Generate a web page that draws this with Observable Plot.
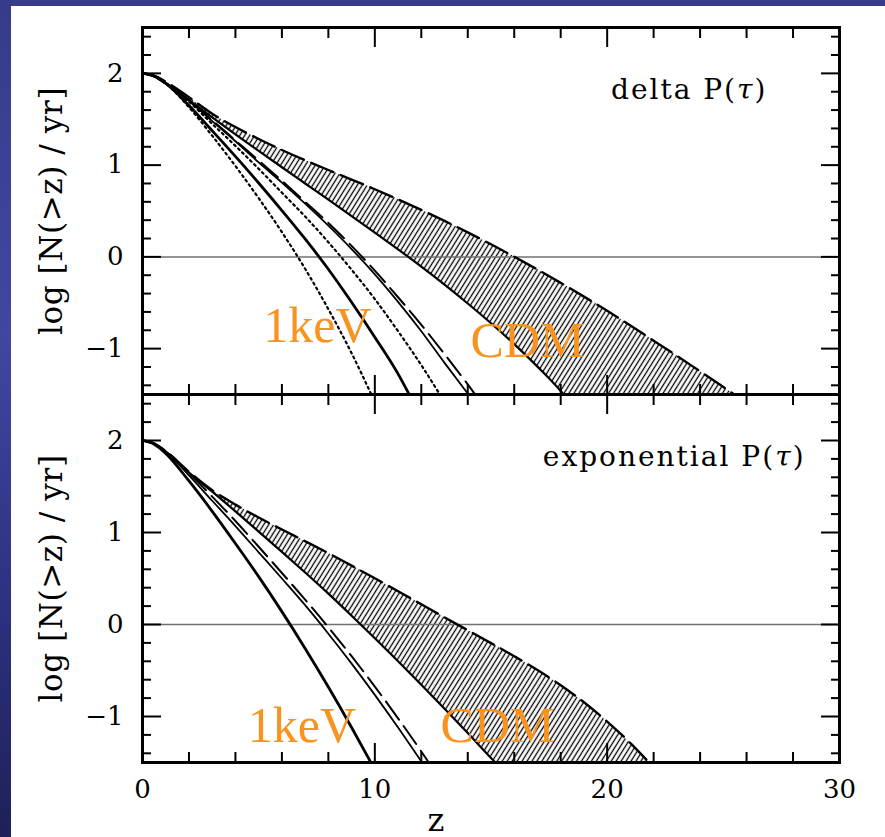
<!DOCTYPE html>
<html><head><meta charset="utf-8">
<script src="https://cdn.jsdelivr.net/npm/d3@7"></script>
<script src="https://cdn.jsdelivr.net/npm/@observablehq/plot@0.6"></script>
<style>
html,body{margin:0;padding:0;}
body{width:885px;height:837px;overflow:hidden;position:relative;
  background:linear-gradient(to bottom,#363c89 0%,#4047a2 40%,#2d3180 72%,#1e2156 100%);}
#sheet{position:absolute;left:11px;top:6px;right:0;bottom:0;background:#fff;}
#top,#bot{position:absolute;left:0;}
#top{top:0px;}
#bot{top:380px;}
</style></head>
<body><div id="sheet"></div><div id="top"></div><div id="bot"></div>
<script>
// ---------- tick values ----------
const xMajor = [0, 10, 20, 30];
const xMinor = [2, 4, 6, 8, 12, 14, 16, 18, 22, 24, 26, 28];
const yMajor = [-1, 0, 1, 2];
const yMinor = [-1.4, -1.2, -0.8, -0.6, -0.4, -0.2, 0.2, 0.4, 0.6, 0.8, 1.2, 1.4, 1.6, 1.8, 2.2, 2.4];

// ---------- top panel: delta P(tau)  [z, log N(>z)/yr] ----------
const deltaDot1 = [[0,2],[0.5,1.97],[1,1.89],[2,1.63],[3,1.32],[4,0.99],[5,0.64],[6,0.27],[7,-0.13],[8,-0.57],[9,-1.05],[9.85,-1.5]];
const deltaKeV = [[0,2],[0.5,1.97],[1,1.89],[2,1.65],[3,1.375],[4,1.095],[5,0.805],[6,0.505],[7,0.195],[8,-0.135],[9,-0.495],[10,-0.875],[11,-1.275],[11.48,-1.5]];
const deltaDot2 = [[0,2],[0.5,1.97],[1,1.89],[2,1.69],[3,1.45],[4,1.21],[5,0.96],[6,0.70],[7,0.44],[8,0.16],[9,-0.14],[10,-0.46],[11,-0.81],[12,-1.18],[12.8,-1.5]];
const deltaThin = [[0,2],[0.5,1.97],[1,1.89],[2,1.70],[3,1.48],[4,1.26],[5,1.03],[6,0.81],[7,0.58],[8,0.34],[9,0.085],[10,-0.19],[11,-0.49],[12,-0.81],[13,-1.155],[14.03,-1.5]];
const deltaDash = [[0,2],[0.5,1.97],[1,1.89],[2,1.70],[3,1.49],[4,1.27],[5,1.05],[6,0.83],[7,0.60],[8,0.37],[9,0.12],[10,-0.15],[11,-0.44],[12,-0.74],[13,-1.06],[14,-1.39],[14.32,-1.5]];
const deltaCdmLo = [[0,2],[0.5,1.97],[1,1.895],[2,1.71],[3,1.52],[4,1.335],[5,1.155],[6,0.977],[7,0.80],[8,0.623],[9,0.445],[10,0.265],[11,0.082],[12,-0.106],[13,-0.302],[14,-0.508],[15,-0.723],[16,-0.951],[17,-1.196],[18,-1.461],[18.13,-1.5]];
const deltaCdmHi = [[0,2],[0.5,1.975],[1,1.91],[2,1.74],[3,1.56],[4,1.415],[5,1.285],[6,1.165],[7,1.053],[8,0.947],[9,0.843],[10,0.737],[11,0.627],[12,0.512],[13,0.392],[14,0.267],[15,0.137],[16,0.002],[17,-0.138],[18,-0.283],[19,-0.433],[20,-0.588],[21,-0.748],[22,-0.913],[23,-1.078],[24,-1.248],[25,-1.418],[25.47,-1.5]];

// ---------- bottom panel: exponential P(tau) ----------
const expKeV = [[0,2],[0.5,1.96],[1,1.86],[2,1.56],[3,1.23],[4,0.88],[5,0.52],[6,0.14],[7,-0.26],[8,-0.68],[9,-1.12],[9.83,-1.5]];
const expThin = [[0,2],[0.5,1.965],[1,1.88],[2,1.62],[3,1.345],[4,1.07],[5,0.785],[6,0.50],[7,0.21],[8,-0.10],[9,-0.425],[10,-0.765],[11,-1.12],[12.03,-1.5]];
const expDash = [[0,2],[0.5,1.965],[1,1.88],[2,1.645],[3,1.39],[4,1.125],[5,0.845],[6,0.56],[7,0.27],[8,-0.03],[9,-0.345],[10,-0.675],[11,-1.02],[12,-1.38],[12.32,-1.5]];
const expCdmLo = [[0,2],[0.5,1.965],[1,1.88],[2,1.65],[3,1.445],[4,1.23],[5,1.01],[6,0.79],[7,0.565],[8,0.335],[9,0.095],[10,-0.15],[11,-0.40],[12,-0.655],[13,-0.915],[14,-1.18],[15,-1.45],[15.19,-1.5]];
const expCdmHi = [[0,2],[0.5,1.97],[1,1.885],[2,1.66],[3,1.46],[4,1.303],[5,1.163],[6,1.033],[7,0.905],[8,0.775],[9,0.64],[10,0.502],[11,0.362],[12,0.22],[13,0.077],[14,-0.062],[15,-0.202],[16,-0.345],[17,-0.495],[18,-0.66],[19,-0.845],[20,-1.055],[21,-1.29],[21.8,-1.5]];

// ---------- texts ----------
const yLabel = "log [N(>z) / yr]";
const xLabel = "z";
const titles = ["delta P(τ)", "exponential P(τ)"];
const modelLabels = ["1keV", "CDM"];

const SERIF = "'DejaVu Serif', serif";
const ORANGE = "#F7931E";
const obj = arr => arr.map(([z, v]) => ({z, v}));
const fmtY = d => d < 0 ? "\u2212" + (-d) : String(d);

function panel(o) {
  const C = "monotone-x";
  const lineMarks = [];
  for (const d of o.dotted) lineMarks.push(Plot.line(obj(d), {x: "z", y: "v", stroke: "black", strokeWidth: 2.2, strokeDasharray: "2,3.6", curve: C}));
  lineMarks.push(Plot.line(obj(o.keV), {x: "z", y: "v", stroke: "black", strokeWidth: 2.8, curve: C}));
  lineMarks.push(Plot.line(obj(o.thin), {x: "z", y: "v", stroke: "black", strokeWidth: 1.8, curve: C}));
  lineMarks.push(Plot.line(obj(o.dash), {x: "z", y: "v", stroke: "black", strokeWidth: 2, strokeDasharray: "22,8", curve: C}));
  lineMarks.push(Plot.line(obj(o.lo), {x: "z", y: "v", stroke: "black", strokeWidth: 2.2, curve: C}));
  lineMarks.push(Plot.line(obj(o.hi), {x: "z", y: "v", stroke: "black", strokeWidth: 2.4, strokeDasharray: "24,8", curve: C}));

  const tickStyle = {fill: "none", stroke: "black", strokeWidth: 2};
  const svg = Plot.plot({
    width: 885, height: o.height,
    marginLeft: 142, marginRight: 46, marginTop: o.marginTop, marginBottom: o.marginBottom,
    x: {domain: [0, 30]},
    y: {domain: [-1.5, 2.5]},
    style: {background: "transparent", fontFamily: SERIF, overflow: "visible", color: "black"},
    marks: [
      Plot.areaY(obj(o.hi), {x: "z", y1: -1.5, y2: "v", fill: `url(#${o.hatch})`, curve: C}),
      Plot.areaY(obj(o.lo), {x: "z", y1: -1.5, y2: "v", fill: "white", curve: C}),
      Plot.ruleY([0], {stroke: "#707070", strokeWidth: 1.5}),
      ...lineMarks,
      Plot.text([o.title], {x: o.titleX, y: o.titleY, textAnchor: "end", lineAnchor: "bottom", fontSize: 28, fontFamily: SERIF, fill: "black"}),
      Plot.text([modelLabels[0]], {x: o.keVPos[0], y: o.keVPos[1], textAnchor: "start", lineAnchor: "bottom", fontSize: 50, fontFamily: "'Liberation Serif', serif", fill: ORANGE}),
      Plot.text([modelLabels[1]], {x: o.cdmPos[0], y: o.cdmPos[1], textAnchor: "start", lineAnchor: "bottom", fontSize: 50, fontFamily: "'Liberation Serif', serif", fill: ORANGE}),
      Plot.text([yLabel], {frameAnchor: "left", dx: -90, rotate: -90, textAnchor: "middle", fontSize: 31, fontFamily: SERIF, fill: "black", lineAnchor: "middle"}),
      o.showX ? Plot.text([xLabel], {frameAnchor: "bottom", dx: -55, dy: 58, textAnchor: "middle", fontSize: 32, fontFamily: SERIF, fill: "black", lineAnchor: "middle"}) : null,
      Plot.frame({stroke: "black", strokeWidth: 3}),
      Plot.axisX(xMajor, {anchor: "bottom", tickSize: -19, ...tickStyle}),
      Plot.axisX(xMinor, {anchor: "bottom", tickSize: -10, ...tickStyle}),
      Plot.axisX(xMajor, {anchor: "top", tickSize: -19, ...tickStyle}),
      Plot.axisX(xMinor, {anchor: "top", tickSize: -10, ...tickStyle}),
      Plot.axisY(yMajor, {anchor: "left", tickSize: -19, ...tickStyle}),
      Plot.axisY(yMinor, {anchor: "left", tickSize: -9, ...tickStyle}),
      Plot.axisY(yMajor, {anchor: "right", tickSize: -19, ...tickStyle}),
      Plot.axisY(yMinor, {anchor: "right", tickSize: -9, ...tickStyle}),
      Plot.axisY(yMajor, {anchor: "left", tickSize: 0, tickPadding: 19, fontSize: 26, label: null, fill: "black", tickFormat: fmtY}),
      o.showX ? Plot.axisX(xMajor, {anchor: "bottom", tickSize: 0, tickPadding: 17, fontSize: 26, label: null, fill: "black", tickFormat: d => String(d)}) : null
    ]
  });
  const defs = d3.select(svg).insert("defs", ":first-child");
  const pat = defs.append("pattern").attr("id", o.hatch).attr("patternUnits", "userSpaceOnUse")
    .attr("width", 4.2).attr("height", 8).attr("patternTransform", "rotate(32)");
  pat.append("line").attr("x1", 2.1).attr("y1", -1).attr("x2", 2.1).attr("y2", 9)
    .attr("stroke", "black").attr("stroke-width", 1.3);
  // panel titles: wider spacing like the original plotting font, italic tau
  d3.select(svg).selectAll("text").filter(function() { return titles.includes(this.textContent); })
    .style("letter-spacing", "2px")
    .each(function() {
      const t = this.textContent;
      const i = t.indexOf("τ");
      const el = d3.select(this);
      el.text("");
      el.append("tspan").text(t.slice(0, i));
      el.append("tspan").attr("font-style", "italic").text("τ");
      el.append("tspan").text(t.slice(i + 1));
    });
  d3.select(svg).selectAll("text").filter(function() { return this.textContent === yLabel; })
    .style("letter-spacing", "0.6px");
  return svg;
}

document.getElementById("top").appendChild(panel({
  height: 400, marginTop: 27, marginBottom: 6, hatch: "hatchTop", showX: false,
  dotted: [deltaDot1, deltaDot2], keV: deltaKeV, thin: deltaThin, dash: deltaDash, lo: deltaCdmLo, hi: deltaCdmHi,
  title: titles[0], titleX: 26.9, titleY: 1.72,
  keVPos: [5.2, -0.93], cdmPos: [14.12, -1.095]
}));
document.getElementById("bot").appendChild(panel({
  height: 457, marginTop: 14, marginBottom: 75, hatch: "hatchBot", showX: true,
  dotted: [], keV: expKeV, thin: expThin, dash: expDash, lo: expCdmLo, hi: expCdmHi,
  title: titles[1], titleX: 28.54, titleY: 1.72,
  keVPos: [4.53, -1.28], cdmPos: [12.83, -1.28]
}));
</script></body></html>
